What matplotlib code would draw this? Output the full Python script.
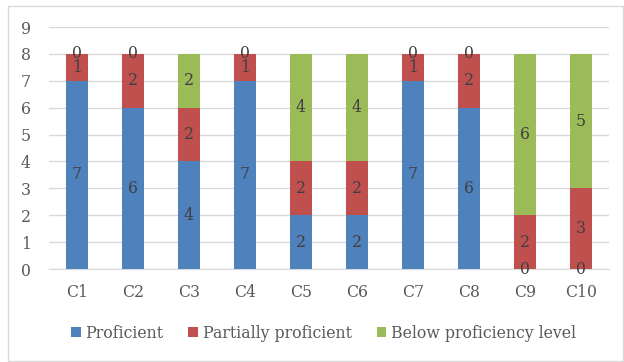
import matplotlib
matplotlib.use("Agg")
import matplotlib.pyplot as plt
from matplotlib.patches import Rectangle
import numpy as np

categories = ["C1", "C2", "C3", "C4", "C5", "C6", "C7", "C8", "C9", "C10"]
proficient = [7, 6, 4, 7, 2, 2, 7, 6, 0, 0]
partial = [1, 2, 2, 1, 2, 2, 1, 2, 2, 3]
below = [0, 0, 2, 0, 4, 4, 0, 0, 6, 5]
series_names = ["Proficient", "Partially proficient", "Below proficiency level"]
colors = ["#4F81BD", "#C0504D", "#9BBB59"]
y_ticks = list(range(0, 10))

plt.rcParams['font.family'] = ['DejaVu Serif']
FS = 11.3
W, H = 624, 362
fig = plt.figure(figsize=(W / 100, H / 100), dpi=100)
ax = fig.add_axes([49 / W, 1 - 269 / H, 560 / W, 242 / H])

x = np.arange(len(categories))
bottom = np.zeros(len(categories))
for vals, name, c in zip([proficient, partial, below], series_names, colors):
    vals = np.array(vals, dtype=float)
    ax.bar(x, vals, 0.39, bottom=bottom, color=c, label=name, zorder=3)
    for xi, b, v in zip(x, bottom, vals):
        ax.text(xi, b + v / 2, f"{int(v)}", ha="center", va="center",
                fontsize=FS, color="#404040", zorder=4)
    bottom += vals

ax.set_xlim(-0.5, len(categories) - 0.5)
ax.set_ylim(0, 9)
ax.set_yticks(y_ticks)
ax.set_xticks(x)
ax.set_xticklabels(categories)
ax.tick_params(axis="both", length=0, labelsize=FS, labelcolor="#595959")
ax.tick_params(axis="y", pad=13)
ax.tick_params(axis="x", pad=11)
ax.grid(axis="y", color="#D9D9D9", linewidth=1, zorder=0)
for s in ["top", "right", "left"]:
    ax.spines[s].set_visible(False)
ax.spines["bottom"].set_color("#D9D9D9")

handles, labels = ax.get_legend_handles_labels()
fig.legend(handles, labels, loc="center", bbox_to_anchor=(323.5 / W, 1 - 333 / H),
           ncol=3, frameon=False, fontsize=FS, handlelength=0.6, handleheight=0.6,
           handletextpad=0.3, columnspacing=1.6, labelcolor="#595959")

fig.patches.append(Rectangle((8 / W, 1 - 361 / H), 615 / W, 355 / H,
                             transform=fig.transFigure, fill=False,
                             edgecolor="#D9D9D9", linewidth=1))
fig.savefig("out.png", dpi=100)
